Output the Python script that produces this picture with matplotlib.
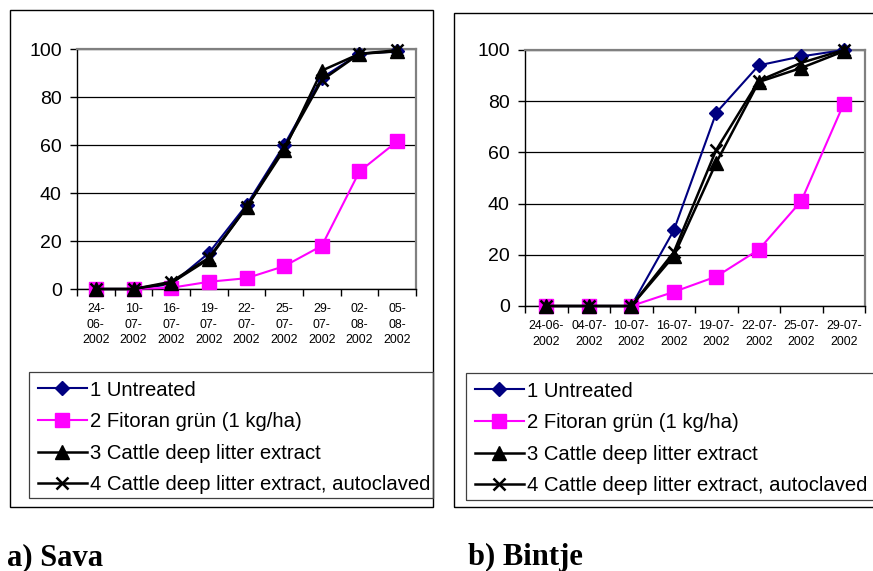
import matplotlib
matplotlib.use("Agg")
import matplotlib.pyplot as plt
from matplotlib.patches import Rectangle
from matplotlib.ticker import FixedLocator, NullFormatter

plt.rcParams['font.family'] = ['Liberation Sans', 'DejaVu Sans']

# Sava
sava_dates = ["24-\n06-\n2002", "10-\n07-\n2002", "16-\n07-\n2002", "19-\n07-\n2002",
              "22-\n07-\n2002", "25-\n07-\n2002", "29-\n07-\n2002", "02-\n08-\n2002",
              "05-\n08-\n2002"]
sava_untreated = [0, 0, 2, 15, 35, 60, 88, 98, 99]
sava_fitoran = [0, 0, 0.5, 3, 4.5, 9.5, 18, 49, 61.5]
sava_cattle = [0, 0, 2.5, 12.5, 34, 58, 91, 98, 99]
sava_autoclaved = [0, 0, 3, 13, 34, 59, 87, 98, 99.5]

# Bintje
bintje_dates = ["24-06-\n2002", "04-07-\n2002", "10-07-\n2002", "16-07-\n2002",
                "19-07-\n2002", "22-07-\n2002", "25-07-\n2002", "29-07-\n2002"]
bintje_untreated = [0, 0, 0, 29.5, 75.5, 94, 97.5, 100]
bintje_fitoran = [0, 0, 0, 5.5, 11.5, 22, 41, 79]
bintje_cattle = [0, 0, 0, 19.5, 56, 87.5, 93, 99.5]
bintje_autoclaved = [0, 0, 0, 21, 61, 88, 95, 100]

series_labels = ["1 Untreated", "2 Fitoran grün (1 kg/ha)",
                 "3 Cattle deep litter extract",
                 "4 Cattle deep litter extract, autoclaved"]
y_ticks = [0, 20, 40, 60, 80, 100]

W, H = 873, 571
fig = plt.figure(figsize=(W / 100, H / 100), dpi=100)


def fx(px):
    return px / W


def fy(py):
    return 1 - py / H


def box(x0, y0, x1, y1, lw=1.0, color="black"):
    fig.patches.append(Rectangle((fx(x0), fy(y1)), fx(x1 - x0), (y1 - y0) / H,
                                 transform=fig.transFigure, fill=False,
                                 edgecolor=color, linewidth=lw, zorder=0))


styles = [
    dict(color="#000080", marker="D", markersize=7.5, linewidth=1.5),
    dict(color="#FF00FF", marker="s", markersize=9.5, linewidth=1.5),
    dict(color="black", marker="^", markersize=10, linewidth=1.8),
    dict(color="black", marker="x", markersize=9, markeredgewidth=1.8, linewidth=1.8),
]


def panel(rect, dates, data, xfont_ls):
    ax = fig.add_axes(rect)
    x = list(range(len(dates)))
    handles = []
    for vals, st in zip(data, styles):
        h, = ax.plot(x, vals, clip_on=False, zorder=3, **st)
        handles.append(h)
    ax.set_xlim(-0.5, len(dates) - 0.5)
    ax.set_ylim(0, 100)
    ax.set_yticks(y_ticks)
    ax.yaxis.grid(True, color="black", linewidth=0.9)
    ax.set_axisbelow(True)
    ax.set_xticks(x)
    ax.set_xticklabels(dates, fontsize=8.9, linespacing=xfont_ls)
    ax.xaxis.set_minor_locator(FixedLocator([i - 0.5 for i in range(len(dates) + 1)]))
    ax.xaxis.set_minor_formatter(NullFormatter())
    ax.tick_params(axis="x", which="major", length=0, pad=10)
    ax.tick_params(axis="x", which="minor", length=5, width=1, direction="out")
    ax.tick_params(axis="y", length=5, width=1, direction="out", labelsize=14, pad=6)
    for s in ("top", "right"):
        ax.spines[s].set_color("#808080")
        ax.spines[s].set_linewidth(1.6)
    for s in ("left", "bottom"):
        ax.spines[s].set_color("black")
        ax.spines[s].set_linewidth(1.0)
    return ax, handles


legend_kw = dict(loc="upper left", frameon=False, fontsize=14.6,
                 handlelength=2.45, handletextpad=0.12, labelspacing=0.62,
                 borderpad=0.42, borderaxespad=0, markerscale=1.0)

# Left panel: Sava
box(10, 10, 433, 507)
ax1, h1 = panel([fx(77), fy(289), fx(416 - 77), (289 - 49) / H], sava_dates,
                [sava_untreated, sava_fitoran, sava_cattle, sava_autoclaved], 1.42)
box(29, 372, 433, 498, lw=0.9, color="#404040")
fig.legend(h1, series_labels, bbox_to_anchor=(fx(29), fy(372)), **legend_kw)

# Right panel: Bintje
box(454, 13, 880, 507)
ax2, h2 = panel([fx(525), fy(306), fx(865 - 525), (306 - 50) / H], bintje_dates,
                [bintje_untreated, bintje_fitoran, bintje_cattle, bintje_autoclaved], 1.5)
box(466, 373, 880, 500, lw=0.9, color="#404040")
fig.legend(h2, series_labels, bbox_to_anchor=(fx(466), fy(373)), **legend_kw)

# Panel captions
cap = dict(fontsize=22, fontweight="bold", family=["Liberation Serif", "DejaVu Serif"],
           va="baseline", ha="left")
fig.text(fx(7), fy(565), "a) Sava", **cap)
fig.text(fx(468), fy(565), "b) Bintje", **cap)

fig.savefig("out.png", dpi=100)
